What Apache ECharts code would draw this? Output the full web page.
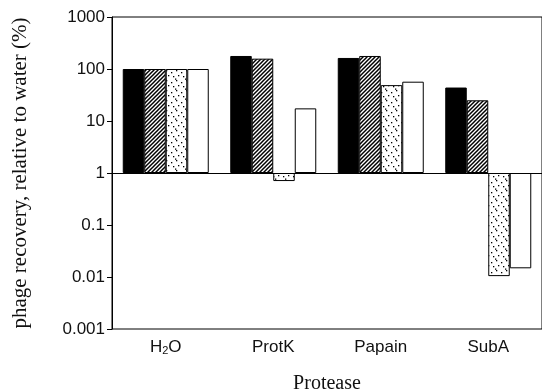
<!DOCTYPE html>
<html>
<head>
<meta charset="utf-8">
<script src="https://cdn.jsdelivr.net/npm/echarts@6/dist/echarts.min.js"></script>
<style>
  html, body { margin: 0; padding: 0; background: #fff; }
  #chart { width: 542px; height: 391px; }
</style>
</head>
<body>
<div id="chart"></div>
<script>
// protease treatments on the x axis
const categories = ["H{sub|2}O", "ProtK", "Papain", "SubA"];
// phage recovery relative to water (%)
const solidValues = [100, 178, 163, 44];
const hatchedValues = [100, 158, 178, 25];
const stippleValues = [100, 0.7, 49, 0.0104];
const openValues = [100, 17.5, 57, 0.0147];
// log axis labels, from 10^-3 up to 10^3
const yTickLabels = ["0.001", "0.01", "0.1", "1", "10", "100", "1000"];

function hatchTile() {
  const c = document.createElement("canvas");
  c.width = 4; c.height = 4;
  const g = c.getContext("2d");
  g.fillStyle = "#fff";
  g.fillRect(0, 0, 4, 4);
  g.strokeStyle = "#000";
  g.lineWidth = 1.5;
  [[-1, 5, 5, -1], [-1, 1, 1, -1], [3, 5, 5, 3]].forEach(([x1, y1, x2, y2]) => {
    g.beginPath(); g.moveTo(x1, y1); g.lineTo(x2, y2); g.stroke();
  });
  return c;
}

function stippleTile() {
  const c = document.createElement("canvas");
  c.width = 10; c.height = 10;
  const g = c.getContext("2d");
  g.fillStyle = "#fff";
  g.fillRect(0, 0, 10, 10);
  g.fillStyle = "#000";
  [[1, 2], [6, 0], [3, 6], [8, 5], [5, 8.5]].forEach(([x, y]) => g.fillRect(x, y, 1.3, 1.3));
  return c;
}

const log10 = (arr) => arr.map((v) => Math.log10(v));

function barSeries(name, values, fill) {
  return {
    name,
    type: "bar",
    barGap: "0%",
    barCategoryGap: "20%",
    data: log10(values),
    itemStyle: { color: fill, borderColor: "#000", borderWidth: 1 },
    emphasis: { disabled: true },
  };
}

const chart = echarts.init(document.getElementById("chart"), null, { renderer: "canvas" });
const series = [
  barSeries("solid", solidValues, "#000"),
  barSeries("hatched", hatchedValues, { image: hatchTile(), repeat: "repeat" }),
  barSeries("stippled", stippleValues, { image: stippleTile(), repeat: "repeat" }),
  barSeries("open", openValues, "#fff"),
];
// line at 1 (value 0 on the log10 axis), where the bars start
series[0].markLine = {
  silent: true,
  symbol: "none",
  label: { show: false },
  lineStyle: { color: "#000", width: 1, type: "solid" },
  data: [{ yAxis: 0 }],
};

chart.setOption({
  animation: false,
  backgroundColor: "#fff",
  grid: {
    left: 112, right: 0, top: 17, bottom: 62,
    containLabel: false,
    outerBoundsMode: "none",
    show: true, borderColor: "#000", borderWidth: 1,
  },
  xAxis: {
    type: "category",
    data: categories,
    name: "Protease",
    nameLocation: "middle",
    nameGap: 45,
    nameTextStyle: { fontFamily: "Liberation Serif", fontSize: 20, color: "#111" },
    axisLine: { lineStyle: { color: "#000", width: 1.2 } },
    axisTick: { inside: true, length: 9, lineStyle: { color: "#000" } },
    axisLabel: {
      margin: 10,
      fontFamily: "Liberation Sans",
      fontSize: 17,
      lineHeight: 17,
      color: "#111",
      rich: {
        sub: {
          fontFamily: "Liberation Sans", fontSize: 11, color: "#111",
          lineHeight: 7, padding: [10, 0, 0, 0], verticalAlign: "bottom",
        },
      },
    },
  },
  yAxis: {
    type: "value",
    min: -3,
    max: 3,
    interval: 1,
    name: "phage recovery, relative to water (%)",
    nameLocation: "middle",
    nameGap: 81,
    nameTextStyle: { fontFamily: "Liberation Serif", fontSize: 21, color: "#111" },
    axisLine: { show: true, lineStyle: { color: "#000", width: 1 } },
    axisTick: { show: true, length: 5, lineStyle: { color: "#000" } },
    axisLabel: {
      margin: 7,
      fontFamily: "Liberation Sans",
      fontSize: 17,
      color: "#111",
      formatter: (v) => yTickLabels[Math.round(v) + 3],
    },
    splitLine: { show: false },
  },
  series,
});
</script>
</body>
</html>
